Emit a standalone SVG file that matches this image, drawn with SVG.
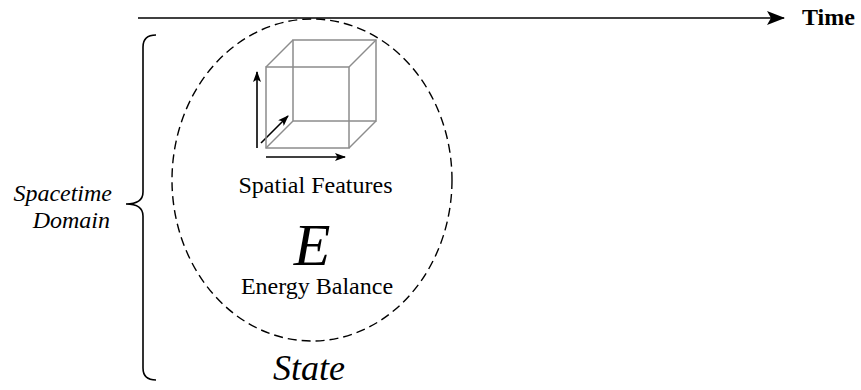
<svg xmlns="http://www.w3.org/2000/svg" width="861" height="390" viewBox="0 0 861 390">
<style>
.t{font-family:"Liberation Serif","Times New Roman",serif;fill:#000}
.ln{stroke:#000;stroke-width:1.6;fill:none}
.cube{stroke:#8c8c8c;stroke-width:1.5;fill:none}
</style>
<defs>
<marker id="big" markerWidth="18" markerHeight="14" refX="17" refY="7" orient="auto" markerUnits="userSpaceOnUse">
<path d="M0,0 L18,7 L0,14 L4,7 Z" fill="#000"/>
</marker>
<marker id="sm" markerWidth="11" markerHeight="8" refX="10" refY="4" orient="auto" markerUnits="userSpaceOnUse">
<path d="M0,0 L11,4 L0,8 L2.5,4 Z" fill="#000"/>
</marker>
</defs>
<rect width="861" height="390" fill="#fff"/>
<g id="connectors">
<line class="ln" x1="138" y1="18" x2="784" y2="18" stroke-width="2.2" marker-end="url(#big)"/>
<line class="ln" x1="257" y1="148" x2="257" y2="72" marker-end="url(#sm)"/>
<line class="ln" x1="261" y1="143" x2="288" y2="116" marker-end="url(#sm)"/>
<line class="ln" x1="266" y1="157" x2="345" y2="157" marker-end="url(#sm)"/>
</g>
<g id="time">
<text class="t" x="802" y="25" font-size="24" font-weight="bold">Time</text>
</g>
<g id="domain">
<path class="ln" d="M156,35 Q143,35 143,47 L143,192 Q143,204 126,204 Q143,204 143,216 L143,368 Q143,380 156,380"/>
<text class="t" x="112" y="201" font-size="24" font-style="italic" text-anchor="end">Spacetime</text>
<text class="t" x="110" y="228" font-size="24" font-style="italic" text-anchor="end">Domain</text>
</g>
<g id="state">
<ellipse cx="312" cy="180" rx="140" ry="161" fill="none" stroke="#000" stroke-width="1.4" stroke-dasharray="9,5"/>
<g id="cube">
<rect class="cube" x="266" y="67" width="83" height="81"/>
<rect class="cube" x="293" y="40" width="83" height="81"/>
<line class="cube" x1="266" y1="67" x2="293" y2="40"/>
<line class="cube" x1="349" y1="67" x2="376" y2="40"/>
<line class="cube" x1="266" y1="148" x2="293" y2="121"/>
<line class="cube" x1="349" y1="148" x2="376" y2="121"/>
</g>
<text class="t" x="315.5" y="193" font-size="24" text-anchor="middle">Spatial Features</text>
<text class="t" x="312" y="265" font-size="60" font-style="italic" text-anchor="middle">E</text>
<text class="t" x="317" y="294" font-size="24" text-anchor="middle">Energy Balance</text>
<text class="t" x="309" y="380" font-size="36" font-style="italic" text-anchor="middle">State</text>
</g>
</svg>
